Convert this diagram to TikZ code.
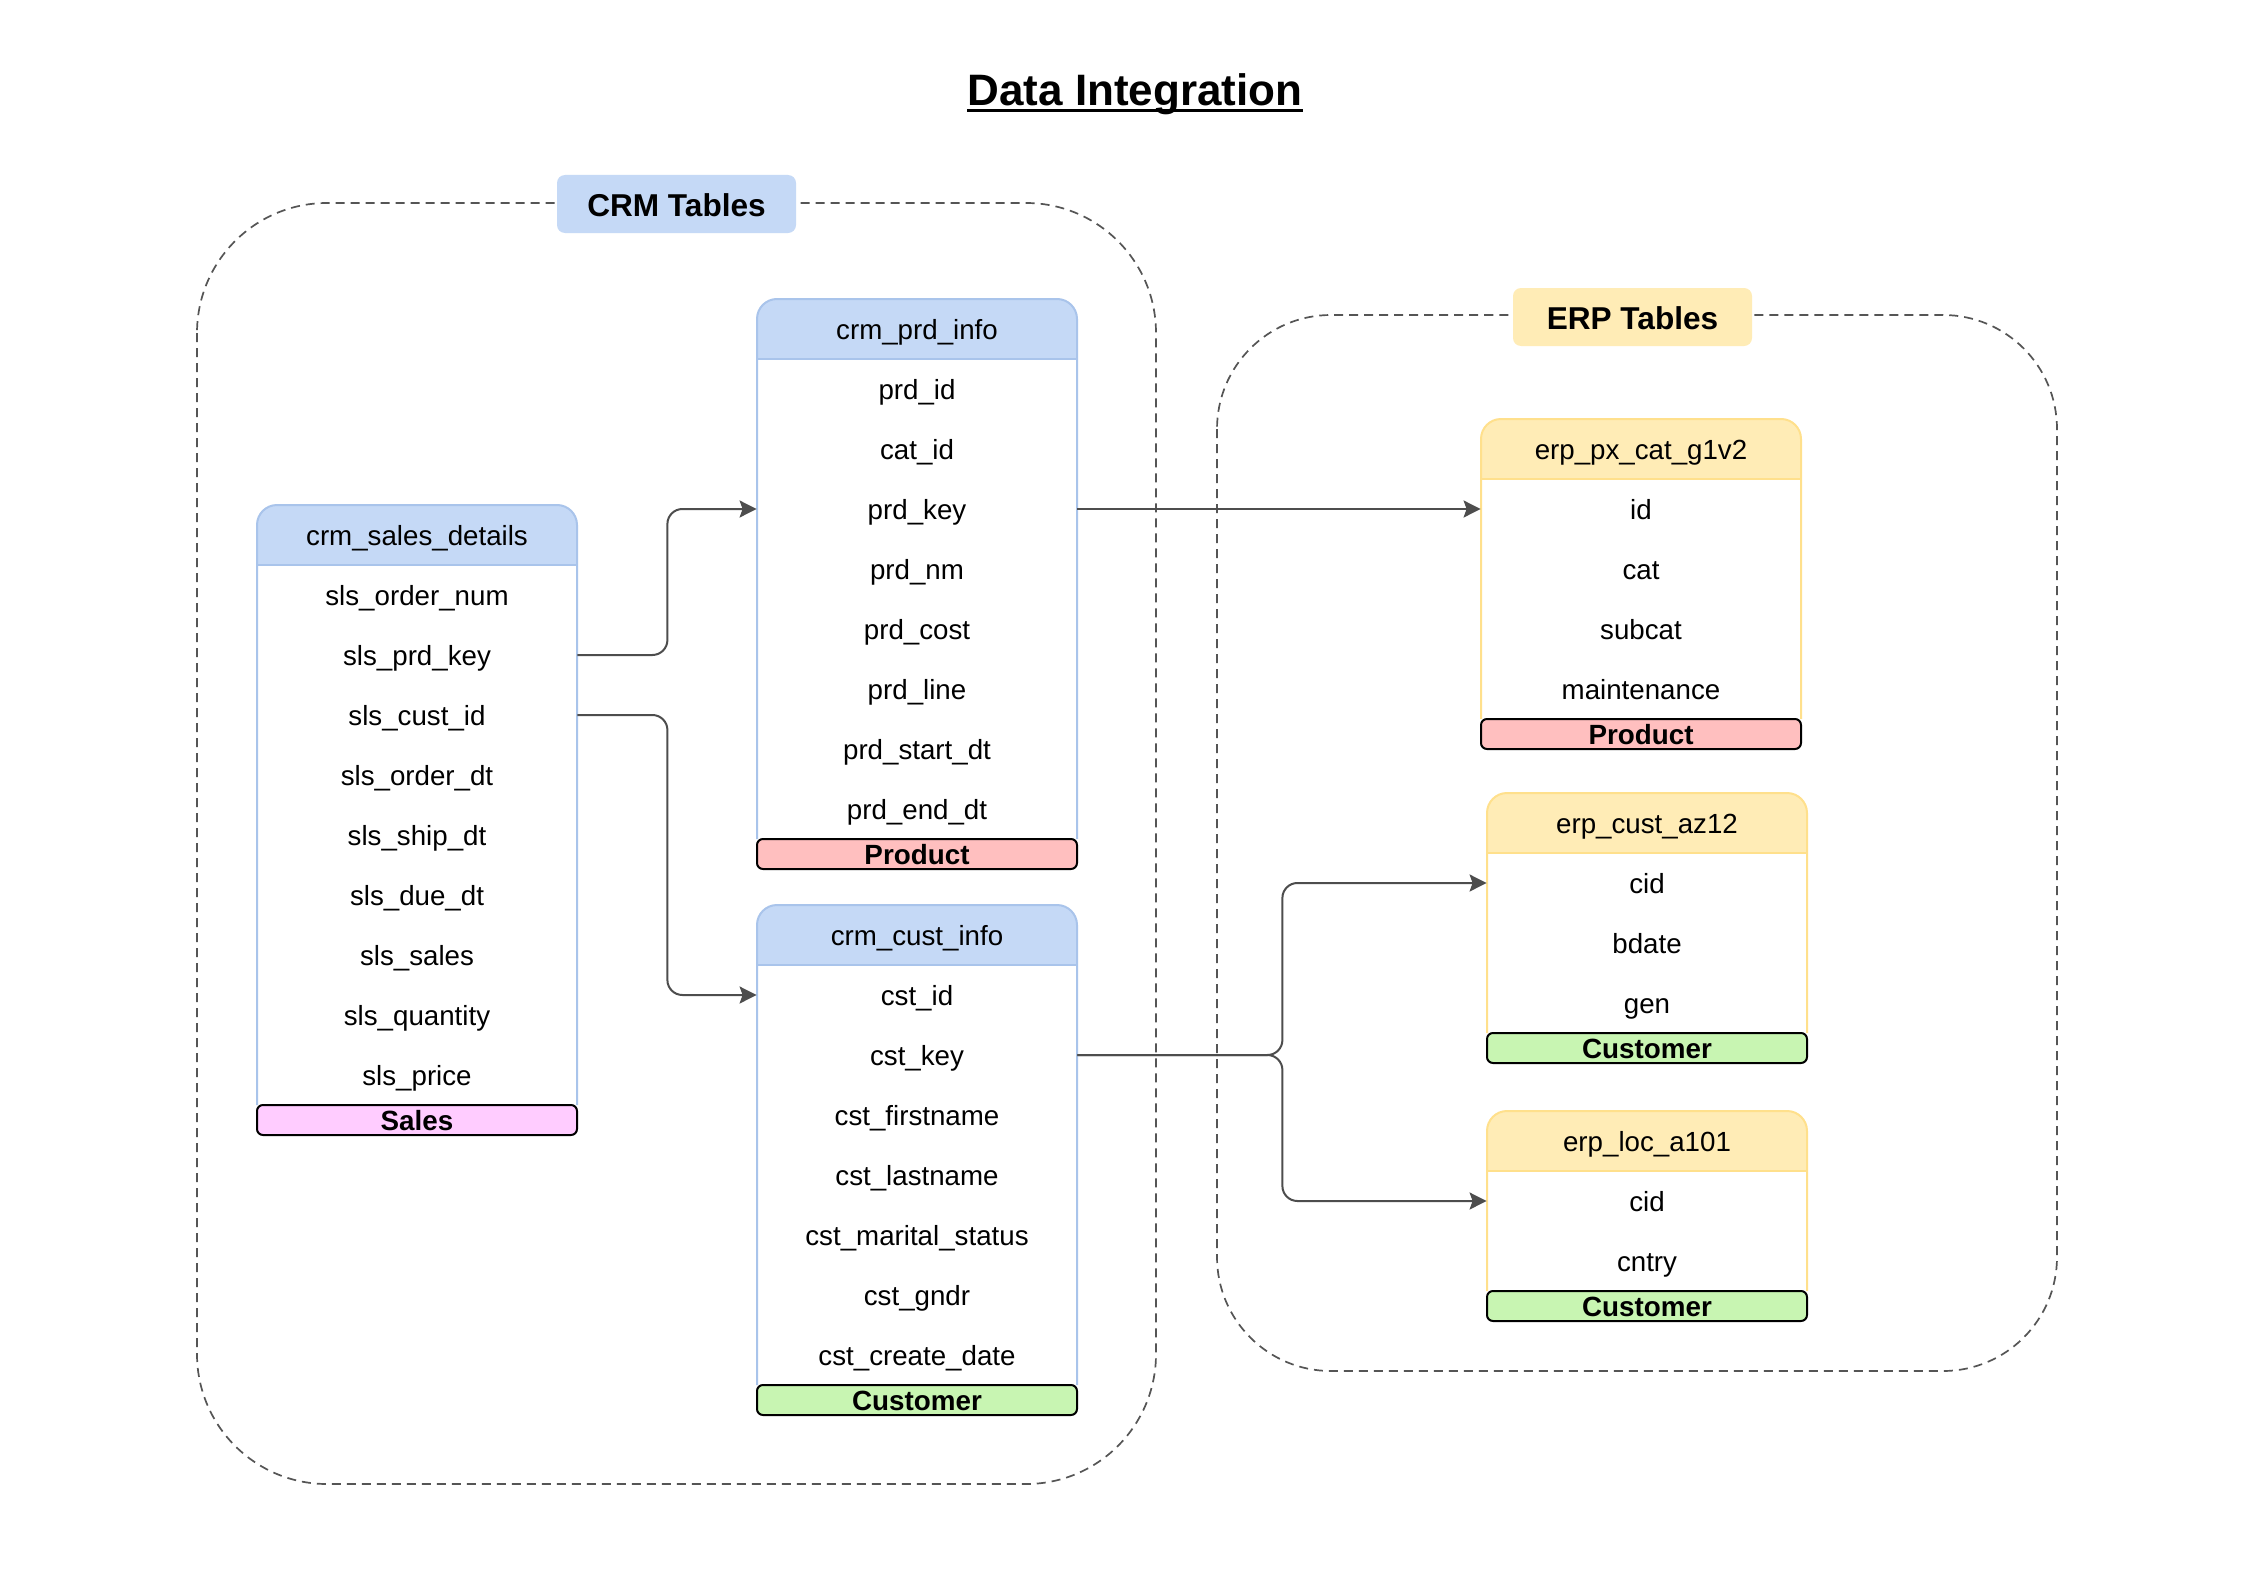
\documentclass[tikz,border=0pt]{standalone}
\usepackage{fontspec}
\setmainfont{Liberation Sans}
\usetikzlibrary{arrows.meta,calc}
\definecolor{hblue}{RGB}{197,217,246}
\definecolor{sblue}{RGB}{169,196,235}
\definecolor{hyel}{RGB}{255,236,182}
\definecolor{syel}{RGB}{255,224,140}
\definecolor{fprod}{RGB}{255,191,191}
\definecolor{fsales}{RGB}{255,204,255}
\definecolor{fcust}{RGB}{200,245,178}
\definecolor{cgray}{RGB}{77,77,77}
\definecolor{dgray}{RGB}{85,85,85}
\tikzset{
  field/.style={minimum width=160pt, minimum height=30pt, inner sep=0pt,
    font=\fontsize{13.85}{16}\selectfont, text height=13.4pt, text depth=2.5pt},
  hdrtext/.style={field},
  foot/.style={draw=black, line width=1pt, rounded corners=3pt, minimum width=160pt,
    minimum height=15pt, inner sep=0pt, font=\bfseries\fontsize{13.9}{16}\selectfont,
    text height=12.4pt, text depth=2pt},
  lbl/.style={minimum width=119.5pt, minimum height=29pt, inner sep=0pt, rounded corners=4pt,
    font=\bfseries\fontsize{15.8}{18}\selectfont, text height=12pt, text depth=0pt},
  cont/.style={draw=dgray, line width=0.85pt, dash pattern=on 4.5pt off 3pt},
  conn/.style={draw=cgray, line width=1pt, rounded corners=7.5pt,
    -{Stealth[length=8.5pt,width=8.5pt,inset=1.5pt]}},
}
% #1 name, #2 xl, #3 header top, #4 nrows, #5 fill, #6 stroke, #7 title
\newcommand\dbhead[7]{%
  \pgfmathsetmacro\tbxr{#2+320}%
  \pgfmathsetmacro\tbhb{#3+60}%
  \pgfmathsetmacro\tbye{#3+60+60*#4}%
  \fill[white] (#2,\tbhb) rectangle (\tbxr,\tbye);
  \fill[#5, rounded corners=10pt] (#2,\tbhb) -- (#2,#3) -- (\tbxr,#3) -- (\tbxr,\tbhb);
  \draw[#6, line width=1pt] (#2,\tbhb) -- (\tbxr,\tbhb);
  \draw[#6, line width=1pt, rounded corners=10pt] (#2,\tbye) -- (#2,#3) -- (\tbxr,#3) -- (\tbxr,\tbye);
  \node[hdrtext] (#1) at (#2+160,#3+30) {#7};
}
% #1 prefix, #2 xl, #3 header top, #4 list
\newcommand\dbrows[4]{%
  \foreach \f [count=\i] in {#4} {\node[field] (#1\i) at (#2+160, #3+30+60*\i) {\f};}
}
% #1 name, #2 xl, #3 ytop, #4 fill, #5 text
\newcommand\dbfoot[5]{%
  \node[foot, fill=#4] (#1) at (#2+160, #3+15) {#5};
}
\begin{document}
\begin{tikzpicture}[x=0.5pt, y=-0.5pt]
\useasboundingbox (0,0) rectangle (2244,1584);
\fill[white] (0,0) rectangle (2244,1584);

% title
\node[inner sep=0pt, anchor=base, font=\bfseries\fontsize{22}{26}\selectfont] (ttl) at (1135,105) {Data Integration};
\draw[line width=1.4pt] ([yshift=-2.8pt]ttl.base west) -- ([yshift=-2.8pt]ttl.base east);

% containers
\draw[cont, rounded corners=65pt] (197,203) rectangle (1156,1484);
\draw[cont, rounded corners=57pt] (1217,315) rectangle (2057,1371);
\node[lbl, fill=hblue] (crml) at (676.5,204) {CRM Tables};
\node[lbl, fill=hyel] (erpl) at (1632.5,317) {ERP Tables};

% crm_sales_details
\dbhead{sh}{257}{505}{9}{hblue}{sblue}{crm\_sales\_details}
\dbrows{s}{257}{505}{sls\_order\_num,sls\_prd\_key,sls\_cust\_id,sls\_order\_dt,sls\_ship\_dt,sls\_due\_dt,sls\_sales,sls\_quantity,sls\_price}
\dbfoot{sf}{257}{1105}{fsales}{Sales}

% crm_prd_info
\dbhead{ph}{757}{299}{8}{hblue}{sblue}{crm\_prd\_info}
\dbrows{p}{757}{299}{prd\_id,cat\_id,prd\_key,prd\_nm,prd\_cost,prd\_line,prd\_start\_dt,prd\_end\_dt}
\dbfoot{pf}{757}{839}{fprod}{Product}

% crm_cust_info
\dbhead{ch}{757}{905}{7}{hblue}{sblue}{crm\_cust\_info}
\dbrows{c}{757}{905}{cst\_id,cst\_key,cst\_firstname,cst\_lastname,cst\_marital\_status,cst\_gndr,cst\_create\_date}
\dbfoot{cf}{757}{1385}{fcust}{Customer}

% erp_px_cat_g1v2
\dbhead{eh}{1481}{419}{4}{hyel}{syel}{erp\_px\_cat\_g1v2}
\dbrows{e}{1481}{419}{id,cat,subcat,maintenance}
\dbfoot{ef}{1481}{719}{fprod}{Product}

% erp_cust_az12
\dbhead{ah}{1487}{793}{3}{hyel}{syel}{erp\_cust\_az12}
\dbrows{a}{1487}{793}{cid,bdate,gen}
\dbfoot{af}{1487}{1033}{fcust}{Customer}

% erp_loc_a101
\dbhead{lh}{1487}{1111}{2}{hyel}{syel}{erp\_loc\_a101}
\dbrows{l}{1487}{1111}{cid,cntry}
\dbfoot{lf}{1487}{1291}{fcust}{Customer}

% connectors
\draw[conn] (s2.east) -- ++(90,0) |- (p3.west);
\draw[conn] (s3.east) -- ++(90,0) |- (c1.west);
\draw[conn] (p3.east) -- (e1.west);
\draw[conn] (c2.east) -- ++(205,0) |- (a1.west);
\draw[conn] (c2.east) -- ++(205,0) |- (l1.west);
\end{tikzpicture}
\end{document}
